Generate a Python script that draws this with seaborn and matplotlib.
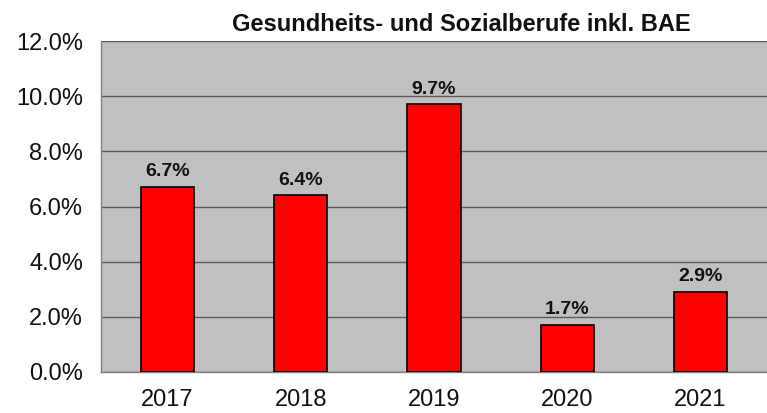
import pandas as pd
import matplotlib
matplotlib.use("Agg")
import matplotlib.pyplot as plt
import seaborn as sns
from matplotlib.ticker import FuncFormatter

# Daten
jahre = ["2017", "2018", "2019", "2020", "2021"]
werte = [6.7, 6.4, 9.7, 1.7, 2.9]  # in %
titel = "Gesundheits- und Sozialberufe inkl. BAE"

df = pd.DataFrame({"Jahr": jahre, "Wert": werte})

sns.set_style("white")
plt.rcParams['font.family'] = ['Liberation Sans', 'DejaVu Sans']
plt.rcParams['text.color'] = 'black'
plt.rcParams['xtick.color'] = 'black'
plt.rcParams['ytick.color'] = 'black'

fig = plt.figure(figsize=(7.67, 4.13), dpi=100)
ax = fig.add_axes([0.1317, 0.0993, 0.8683, 0.8014])
ax.set_facecolor("#C0C0C0")

sns.barplot(data=df, x="Jahr", y="Wert", color="#FF0000", edgecolor="black",
            linewidth=1.2, width=0.4, saturation=1, ax=ax, zorder=3)

ax.set_ylim(0, 12)
ax.set_xlim(-0.5, 4.5)
ax.set_yticks([0, 2, 4, 6, 8, 10, 12])
ax.yaxis.set_major_formatter(FuncFormatter(lambda v, p: f"{v:.1f}%"))
ax.grid(axis="y", color="#5a5a5a", linewidth=1.0, zorder=0)
ax.set_axisbelow(True)

# Ticks zwischen den Kategorien
ax.set_xticks([i - 0.5 for i in range(6)], minor=True)
ax.tick_params(axis="x", which="major", length=0, labelsize=17, pad=12)
ax.tick_params(axis="x", which="minor", length=6, color="#808080", width=1, direction="out")
ax.tick_params(axis="y", length=5, color="#808080", width=1, direction="out",
               labelsize=17, pad=8, labelcolor="#111111")
ax.tick_params(axis="x", labelcolor="#111111")

for s in ["top", "right"]:
    ax.spines[s].set_visible(False)
for s in ["left", "bottom"]:
    ax.spines[s].set_color("#808080")
    ax.spines[s].set_linewidth(1)

ax.set_xlabel("")
ax.set_ylabel("")

for c in ax.containers:
    ax.bar_label(c, labels=[f"{v:.1f}%" for v in werte], padding=5,
                 fontsize=14, fontweight="bold", color="#111111")

ax.set_title(titel, fontsize=17, fontweight="bold", pad=7, color="#111111", x=0.541)

fig.savefig("out.png", dpi=100)
